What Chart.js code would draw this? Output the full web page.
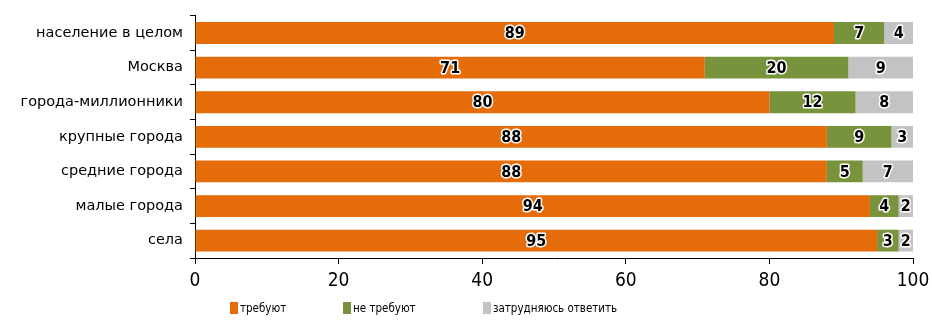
<!DOCTYPE html>
<html>
<head>
<meta charset="utf-8">
<script src="https://cdn.jsdelivr.net/npm/chart.js@4/dist/chart.umd.min.js"></script>
<style>
  html, body { margin: 0; padding: 0; background: #fff; }
  #wrap { width: 932px; height: 322px; position: relative; }
</style>
</head>
<body>
<div id="wrap"><canvas id="myChart" width="932" height="322"></canvas></div>
<script>
const categories = ['население в целом', 'Москва', 'города-миллионники', 'крупные города', 'средние города', 'малые города', 'села']
const require = [89, 71, 80, 88, 88, 94, 95]
const notRequire = [7, 20, 12, 9, 5, 4, 3]
const hardToSay = [4, 9, 8, 3, 7, 2, 2]
const seriesNames = ['требуют', 'не требуют', 'затрудняюсь ответить']
const xTicks = [0, 20, 40, 60, 80, 100]

const NARROW = "'Liberation Sans Narrow', 'DejaVu Sans Condensed', sans-serif"
const FONT = "'DejaVu Sans Condensed', 'DejaVu Sans', sans-serif"
const WIDE = "'DejaVu Sans', sans-serif"

// value labels with white halo
const valueLabels = {
    id: 'valueLabels',
    afterDatasetsDraw(chart) {
        const ctx = chart.ctx
        ctx.save()
        ctx.font = 'bold 16px ' + NARROW
        ctx.textAlign = 'center'
        ctx.textBaseline = 'middle'
        ctx.lineJoin = 'round'
        chart.data.datasets.forEach((ds, i) => {
            chart.getDatasetMeta(i).data.forEach((el, j) => {
                const x = (el.x + el.base) / 2
                const txt = String(ds.data[j])
                ctx.strokeStyle = '#fff'
                ctx.lineWidth = 3
                ctx.strokeText(txt, x, el.y + 1)
                ctx.fillStyle = '#000'
                ctx.fillText(txt, x, el.y + 1)
            })
        })
        ctx.restore()
    }
}

// legend drawn under the axis
const bottomLegend = {
    id: 'bottomLegend',
    afterDraw(chart) {
        const ctx = chart.ctx
        const startX = [230, 343, 483]
        const y = 308
        ctx.save()
        ctx.font = '11.5px ' + FONT
        ctx.textBaseline = 'middle'
        chart.data.datasets.forEach((ds, i) => {
            ctx.fillStyle = ds.backgroundColor
            ctx.fillRect(startX[i], y - 6, 8, 12)
            ctx.fillStyle = '#000'
            ctx.fillText(ds.label, startX[i] + 10, y + 1)
        })
        ctx.restore()
    }
}

const data = {
    labels: categories,
    datasets: [
        { label: seriesNames[0], data: require, backgroundColor: '#E46C0A' },
        { label: seriesNames[1], data: notRequire, backgroundColor: '#77933C' },
        { label: seriesNames[2], data: hardToSay, backgroundColor: '#C3C3C3' }
    ]
}

const config = {
    type: 'bar',
    data: data,
    options: {
        indexAxis: 'y',
        responsive: false,
        animation: false,
        layout: { padding: { top: 12, right: 19, bottom: 24, left: 0 } },
        datasets: { bar: { barPercentage: 0.63, categoryPercentage: 1, borderWidth: 0 } },
        plugins: { legend: { display: false }, tooltip: { enabled: false } },
        scales: {
            x: {
                stacked: true,
                min: 0,
                max: 100,
                afterBuildTicks: (s) => { s.ticks = xTicks.map(v => ({ value: v })) },
                afterFit: (s) => { s.height = 40; s.paddingLeft = 0; s.paddingRight = 0 },
                grid: { drawOnChartArea: false, color: '#000', tickLength: 6 },
                border: { color: '#000', width: 1 },
                ticks: { color: '#000', padding: 6, font: { family: NARROW, size: 19 } }
            },
            y: {
                stacked: true,
                afterFit: (s) => { s.width = 195 },
                grid: { drawOnChartArea: false, offset: true, color: '#000', tickLength: 5 },
                border: { color: '#000', width: 1 },
                ticks: { color: '#000', padding: 7, font: { family: WIDE, size: 14.5 } }
            }
        }
    },
    plugins: [valueLabels, bottomLegend]
}

new Chart(document.getElementById('myChart'), config)
</script>
</body>
</html>
